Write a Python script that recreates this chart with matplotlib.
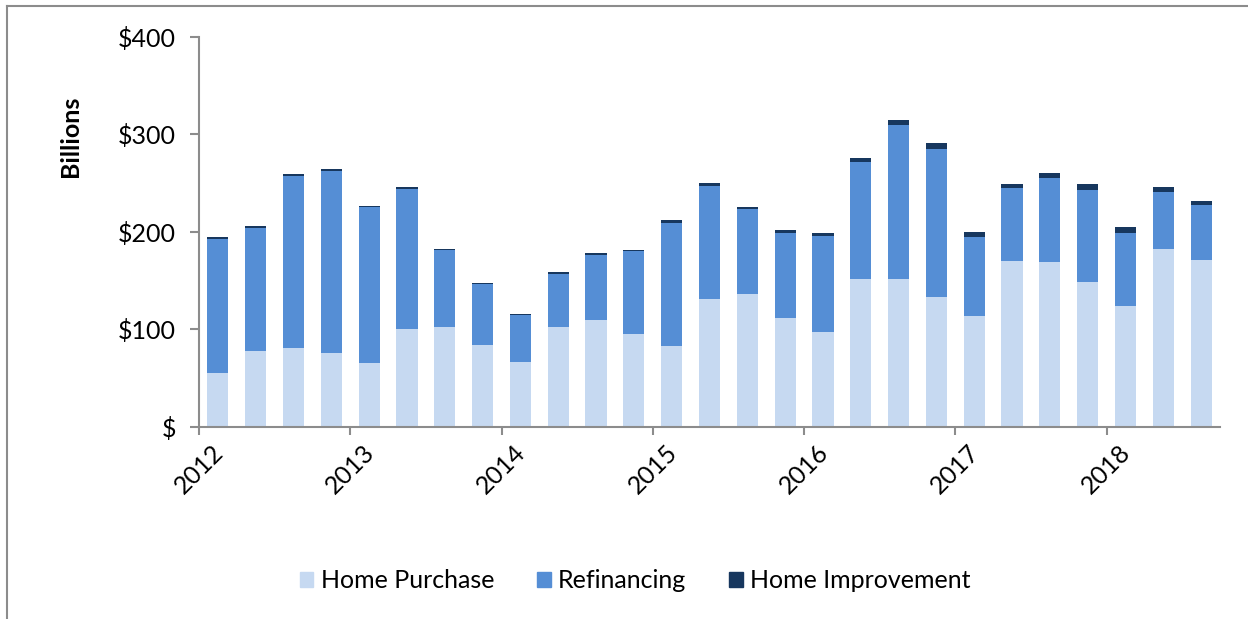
import numpy as np
import matplotlib.pyplot as plt
from matplotlib.lines import Line2D
from matplotlib.patches import Patch

plt.rcParams['font.family'] = ['Lato', 'DejaVu Sans']

# quarterly origination volume, $ billions (2012 Q1 .. 2018 Q3)
quarters = [f"{y}Q{q}" for y in range(2012, 2019) for q in range(1, 5)][:27]
home_purchase = [55, 78, 81, 76, 65, 100, 102, 84, 66, 102, 109, 95, 83, 131,
                 136, 111, 97, 152, 152, 133, 114, 170, 169, 148, 124, 182, 171]
refinancing = [138, 126, 176, 186, 160, 144, 79, 62, 49, 55, 67, 85, 126, 116,
               87, 88, 99, 119, 157, 152, 81, 75, 86, 95, 75, 59, 56]
home_improvement = [1.5, 1.4, 1.8, 1.8, 1.8, 1.4, 1.0, 1.0, 1.0, 1.4, 1.7, 1.7, 2.8, 3.4,
                    2.8, 2.7, 3.1, 4.8, 5.9, 6.2, 4.8, 4.4, 5.5, 6.1, 5.5, 4.8, 4.8]
year_labels = ["2012", "2013", "2014", "2015", "2016", "2017", "2018"]
y_ticks = [0, 100, 200, 300, 400]

c_purch = "#C6D9F1"
c_refi = "#558ED5"
c_impr = "#17375E"
grey = "#8C8C8C"

fig = plt.figure(figsize=(12.48, 6.19), dpi=100)
ax = fig.add_axes([199 / 1248, 1 - 426.7 / 619, 1021 / 1248, 390 / 619])

x = np.arange(len(quarters)) + 0.5
p = np.array(home_purchase)
r = np.array(refinancing)
h = np.array(home_improvement)
w = 0.56
ax.bar(x, p, w, color=c_purch, label="Home Purchase")
ax.bar(x, r, w, bottom=p, color=c_refi, label="Refinancing")
ax.bar(x, h, w, bottom=p + r, color=c_impr, label="Home Improvement")

ax.set_xlim(0, len(quarters))
ax.set_ylim(0, 400)
ax.set_yticks(y_ticks)
ax.set_yticklabels(["$" if v == 0 else f"${v}" for v in y_ticks])
ax.set_xticks(np.arange(0, len(quarters), 4))
ax.set_xticklabels(year_labels, rotation=45, ha="center")

for s in ["top", "right"]:
    ax.spines[s].set_visible(False)
for s in ["left", "bottom"]:
    ax.spines[s].set_color(grey)
    ax.spines[s].set_linewidth(1.5)
ax.tick_params(axis="y", length=6.5, width=1.5, color=grey, pad=10, labelsize=18)
ax.tick_params(axis="x", length=6, width=1.5, color=grey, pad=4, labelsize=18)

fig.text(70 / 1248, 1 - 136 / 619, "Billions", rotation=90, fontsize=18,
         fontweight="bold", ha="center", va="center")

handles = [Patch(color=c_purch), Patch(color=c_refi), Patch(color=c_impr)]
fig.legend(handles, ["Home Purchase", "Refinancing", "Home Improvement"],
           loc="center", bbox_to_anchor=(0.509, 1 - 581 / 619), ncol=3,
           frameon=False, fontsize=18, handlelength=0.55, handleheight=0.55,
           handletextpad=0.3, columnspacing=1.7)

# chart frame (left and top edges visible)
fig.add_artist(Line2D([7 / 1248, 7 / 1248], [0, 1 - 5.5 / 619], color=grey, lw=1.5))
fig.add_artist(Line2D([7 / 1248, 1], [1 - 5.5 / 619, 1 - 5.5 / 619], color=grey, lw=1.5))

fig.savefig("out.png", dpi=100)
